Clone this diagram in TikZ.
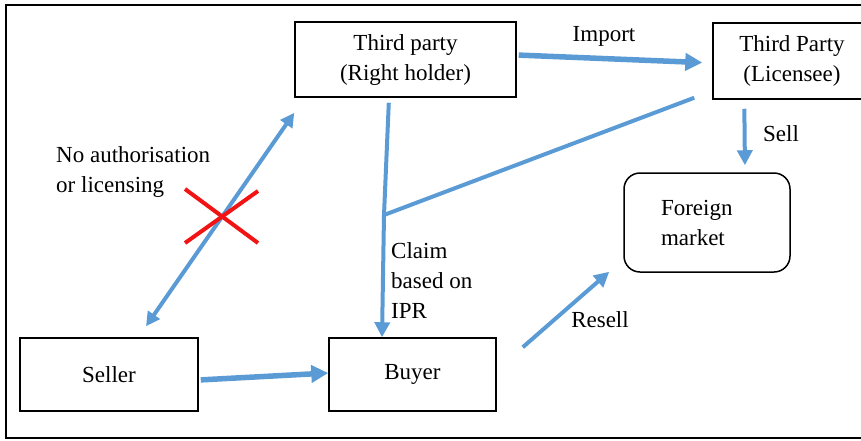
\documentclass[tikz,border=0pt]{standalone}
\usepackage{fontspec}
\setmainfont{Liberation Serif}
\usetikzlibrary{arrows.meta,calc}
\definecolor{arrowblue}{RGB}{91,155,213}
\definecolor{xred}{RGB}{240,20,20}
\begin{document}
\begin{tikzpicture}[x=1pt,y=-1pt,
  every node/.style={font=\fontsize{23}{30}\selectfont, inner sep=0pt},
  box/.style={draw=black, line width=1.5pt, align=center},
  flow/.style={draw=arrowblue, line width=4pt, -{Triangle[length=15pt,width=15pt]}},
  flowthick/.style={flow, line width=5.5pt, -{Triangle[length=17pt,width=17pt]}},
  both/.style={draw=arrowblue, line width=4pt, {Triangle[length=14pt,width=14pt]}-{Triangle[length=14pt,width=14pt]}},
  plain/.style={draw=arrowblue, line width=4pt},
  label/.style={align=left}
]
\useasboundingbox (0,0) rectangle (861,440);
\clip (0,0) rectangle (861,440);
\draw[line width=1.5pt] (870,5) -- (6,5) -- (6,438) -- (870,438);

\node[box, minimum width=221pt, minimum height=75pt] (rh) at (405.5,59.5) {Third party\\(Right holder)};
\node[box, minimum width=158pt, minimum height=76pt] (lic) at (792,61) {Third Party\\(Licensee)};
\node[box, minimum width=178pt, minimum height=73pt] (seller) at (109,374.5) {Seller};
\node[box, minimum width=167pt, minimum height=73pt] (buyer) at (412.5,374.5) {Buyer};
\node[box, rounded corners=16pt, minimum width=166pt, minimum height=99pt, text width=92pt, align=left] (fm) at (707,222.5) {Foreign\\market};

\node (import) at (604,36) {Import};
\node (sell) at (781,134) {Sell};
\node[label, anchor=west] (noauth) at (56,172) {No authorisation\\or licensing};
\node[label, anchor=west] (claim) at (391,281) {Claim\\based on\\IPR};
\node (resell) at (600,320) {Resell};

\coordinate (J) at (384,215);

% Import
\draw[flowthick, shorten <=2pt, shorten >=10pt] ([yshift=4.5pt]rh.east) -- ([yshift=-2pt]lic.west);
% Sell
\draw[flow, shorten <=9pt, shorten >=7pt] ([xshift=32pt]lic.south west) -- ([xshift=38pt]fm.north);
% Claim
\draw[plain, shorten <=5pt] ([xshift=-16.5pt]rh.south) -- (J);
\draw[flow] (J) -- ([xshift=-30.5pt]buyer.north);
\draw[plain] (J) -- ([xshift=-18pt,yshift=2pt]lic.south west);
% No authorisation
\draw[both] ([xshift=37pt,yshift=11pt]seller.north) -- ([yshift=-15pt]rh.south west);
% Seller to buyer
\draw[flowthick, shorten <=2pt] ([yshift=-5.5pt]seller.east) -- ([yshift=1.5pt]buyer.west);
% Resell
\draw[flow] ([xshift=26pt,yshift=-10pt]buyer.north east) -- ([xshift=-14pt,yshift=1pt]fm.south west);

% red cross
\coordinate (X) at (222,216);
\draw[xred, line width=4pt] ($(X)+(-37,-27)$) -- ($(X)+(36,27)$);
\draw[xred, line width=4pt] ($(X)+(-37,27)$) -- ($(X)+(36,-25)$);
\end{tikzpicture}
\end{document}
